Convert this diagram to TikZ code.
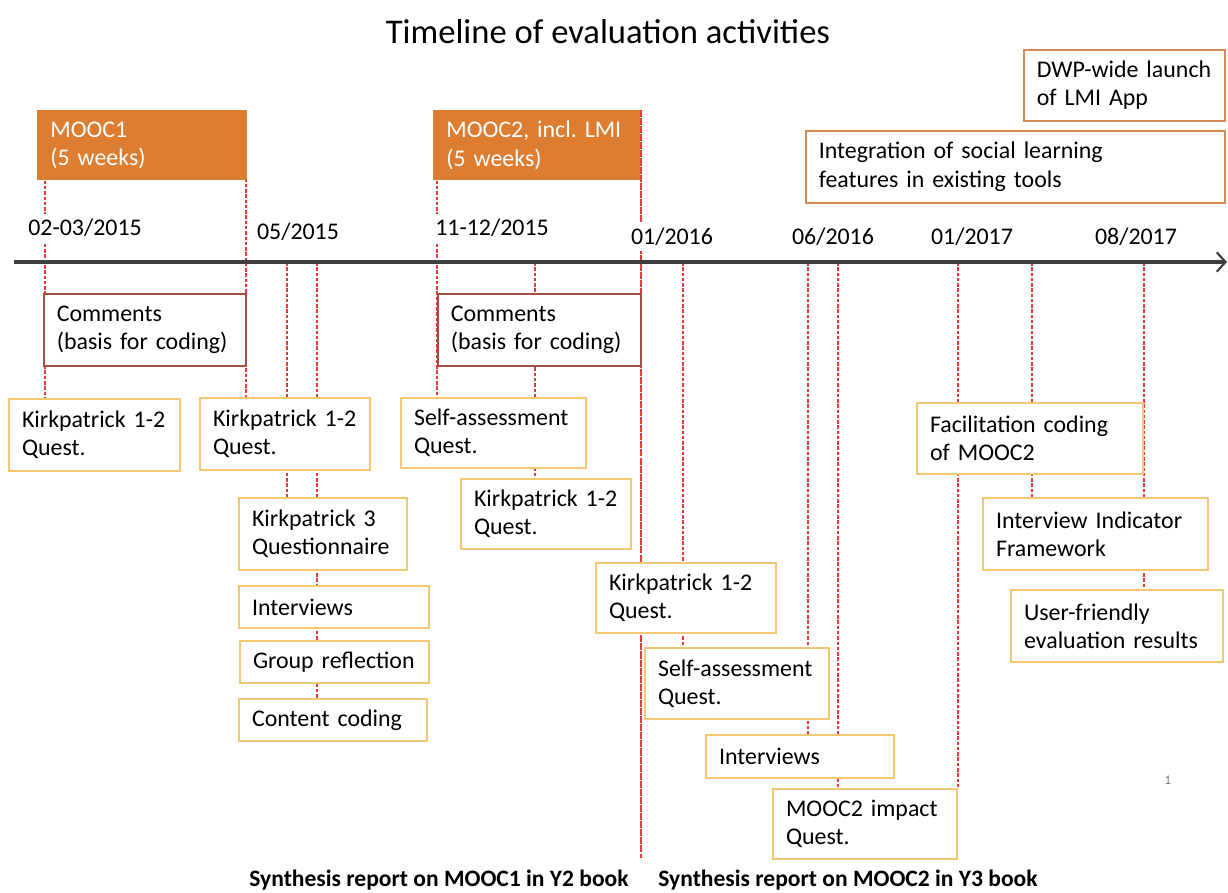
\documentclass[tikz,border=0pt]{standalone}
\usepackage{fontspec}
\setmainfont{Carlito}
\usetikzlibrary{arrows.meta,backgrounds}
\frenchspacing

\definecolor{moocfill}{RGB}{221,125,49}
\definecolor{launchedge}{RGB}{214,138,88}
\definecolor{commentedge}{RGB}{163,78,66}
\definecolor{actedge}{RGB}{244,200,112}
\definecolor{tickred}{RGB}{228,58,58}
\definecolor{axisgray}{RGB}{62,62,62}

\begin{document}
\begin{tikzpicture}[x=0.02cm, y=-0.02cm,
    every node/.style={font=\fontsize{13.6}{16}\selectfont, inner ysep=2pt},
    sized/.style 2 args={anchor=north west, inner xsep=0.26cm, text width=#1cm, minimum height=#2cm, align=left},
    mooc/.style={fill=moocfill, text=white},
    launch/.style={draw=launchedge, line width=0.9pt, fill=white},
    comment/.style={draw=commentedge, line width=0.9pt, fill=white},
    act/.style={draw=actedge, line width=1.2pt, fill=white},
    date/.style={fill=white, inner sep=3pt},
    dline/.style={draw=tickred, line width=0.7pt, dash pattern=on 2pt off 1pt},
    timeaxis/.style={draw=axisgray, line width=1.8pt, -{Straight Barb[length=5pt,width=11pt,line width=1.2pt]}}]
  \useasboundingbox (0,0) rectangle (1228,893);

  \node[font=\fontsize{19.7}{22}\selectfont] (title) at (608,32) {Timeline of evaluation activities};

  % course runs and launches
  \node[mooc, sized={3.68}{1.4}] (mooc1) at (37,110) {MOOC1\\(5 weeks)};
  \node[mooc, sized={3.62}{1.4}] (mooc2) at (433,110) {MOOC2, incl. LMI\\(5 weeks)};
  \node[launch, sized={3.50}{1.42}] (dwp) at (1023,49) {DWP-wide launch\\of LMI App};
  \node[launch, sized={7.86}{1.44}] (integ) at (805,130) {Integration of social learning\\features in existing tools};

  % time axis
  \draw[timeaxis] (14,262) -- (1227,262);
  \foreach \x in {45,246,287,317,437,535,641,683,808,838,958,1032,1144}
    \coordinate (t\x) at (\x,262);
  \coordinate (rep1) at (641,858);

  \node[date] (d1) at (85,228) {02-03/2015};
  \node[date] (d2) at (298,232) {05/2015};
  \node[date] (d3) at (492,228) {11-12/2015};
  \node[date] (d4) at (672,237) {01/2016};
  \node[date] (d5) at (833,237) {06/2016};
  \node[date] (d6) at (972,237) {01/2017};
  \node[date] (d7) at (1136,237) {08/2017};

  \node[comment, sized={3.52}{1.44}] (com1) at (43,293) {Comments\\(basis for coding)};
  \node[comment, sized={3.54}{1.44}] (com2) at (437,293) {Comments\\(basis for coding)};

  % evaluation activities
  \node[act, sized={2.90}{1.44}] (kp1) at (8,398) {Kirkpatrick 1-2\\Quest.};
  \node[act, sized={2.88}{1.44}] (kp2) at (199,397) {Kirkpatrick 1-2\\Quest.};
  \node[act, sized={2.84}{1.44}] (kpq) at (238,497) {Kirkpatrick 3\\Questionnaire};
  \node[act, sized={3.28}{0.84}] (int1) at (238,585) {Interviews};
  \node[act, sized={3.26}{0.84}] (grp) at (239,640) {Group reflection};
  \node[act, sized={3.24}{0.84}] (cont) at (238,698) {Content coding};
  \node[act, sized={3.18}{1.40}] (sa1) at (400,397) {Self-assessment\\Quest.};
  \node[act, sized={2.88}{1.40}] (kp3) at (460,478) {Kirkpatrick 1-2\\Quest.};
  \node[act, sized={3.08}{1.40}] (kp4) at (595,562) {Kirkpatrick 1-2\\Quest.};
  \node[act, sized={3.16}{1.42}] (sa2) at (644,647) {Self-assessment\\Quest.};
  \node[act, sized={3.24}{0.86}] (int2) at (705,734) {Interviews};
  \node[act, sized={3.16}{1.40}] (impact) at (772,788) {MOOC2 impact\\Quest.};
  \node[act, sized={4.00}{1.42}] (facil) at (916,402) {Facilitation coding\\of MOOC2};
  \node[act, sized={3.98}{1.44}] (iif) at (982,497) {Interview Indicator\\Framework};
  \node[act, sized={3.72}{1.44}] (ufr) at (1010,589) {User-friendly\\evaluation results};

  \node[font=\bfseries\fontsize{13.4}{16}\selectfont] (syn1) at (439,880) {Synthesis report on MOOC1 in Y2 book};
  \node[font=\bfseries\fontsize{13.4}{16}\selectfont] (syn2) at (848,880) {Synthesis report on MOOC2 in Y3 book};
  \node[font=\ttfamily\fontsize{8}{8}\selectfont, text=gray] (pnum) at (1168,780) {1};

  % dashed markers behind the boxes
  \begin{scope}[on background layer]
    \draw[dline] (mooc1.south -| t45) -- (kp1.north -| t45);
    \draw[dline] (mooc1.north -| t246) -- (kp2.north -| t246);
    \draw[dline] (mooc2.south -| t437) -- (sa1.north -| t437);
    \draw[dline, dash pattern=on 4pt off 0.6pt] (mooc2.north -| t641) -- (rep1);
    \foreach \x/\b in {287/kpq,317/cont,535/kp3,683/sa2,808/int2,838/impact,958/impact,1032/iif,1144/ufr}
      \draw[dline] (t\x) -- (\b.north -| t\x);
  \end{scope}
\end{tikzpicture}
\end{document}
